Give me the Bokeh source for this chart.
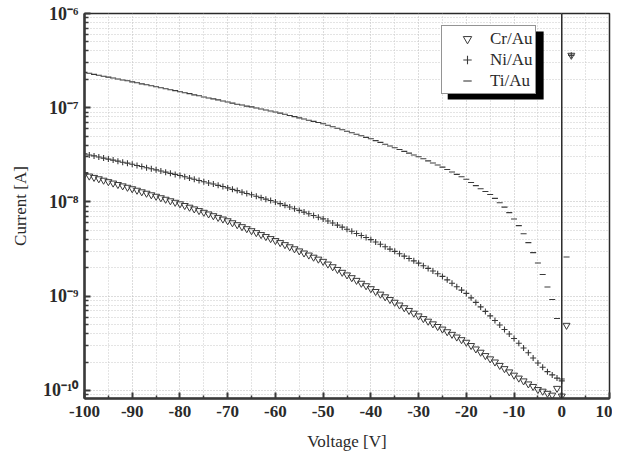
from bokeh.plotting import figure
from bokeh.models import (FixedTicker, CustomJSTickFormatter, Span, Legend, LegendItem,
                          BoxAnnotation, Range1d, ColumnDataSource)
from bokeh.embed import file_html
from bokeh.resources import INLINE

# Voltage sweep (V), 1 V steps from -100 to 0, plus positive-bias points
sweep = list(range(-100, 1))

cr_au = [1.95e-8, 1.88e-8, 1.82e-8, 1.76e-8, 1.70e-8, 1.64e-8, 1.585e-8, 1.53e-8, 1.48e-8, 1.43e-8,
         1.38e-8, 1.33e-8, 1.28e-8, 1.236e-8, 1.19e-8, 1.148e-8, 1.107e-8, 1.067e-8, 1.028e-8, 9.91e-9,
         9.55e-9, 9.16e-9, 8.79e-9, 8.43e-9, 8.09e-9, 7.76e-9, 7.45e-9, 7.14e-9, 6.85e-9, 6.58e-9,
         6.31e-9, 6.01e-9, 5.73e-9, 5.46e-9, 5.20e-9, 4.95e-9, 4.72e-9, 4.50e-9, 4.29e-9, 4.08e-9,
         3.89e-9, 3.70e-9, 3.52e-9, 3.34e-9, 3.18e-9, 3.02e-9, 2.87e-9, 2.73e-9, 2.59e-9, 2.47e-9,
         2.34e-9, 2.19e-9, 2.05e-9, 1.92e-9, 1.79e-9, 1.68e-9, 1.57e-9, 1.47e-9, 1.37e-9, 1.29e-9,
         1.20e-9, 1.12e-9, 1.05e-9, 9.84e-10, 9.20e-10, 8.61e-10, 8.05e-10, 7.53e-10, 7.05e-10, 6.59e-10,
         6.17e-10, 5.78e-10, 5.42e-10, 5.08e-10, 4.76e-10, 4.47e-10, 4.19e-10, 3.93e-10, 3.68e-10, 3.45e-10,
         3.24e-10, 2.99e-10, 2.75e-10, 2.54e-10, 2.34e-10, 2.16e-10, 2.00e-10, 1.84e-10, 1.70e-10, 1.57e-10,
         1.45e-10, 1.35e-10, 1.26e-10, 1.17e-10, 1.10e-10, 1.02e-10, 9.8e-11, 9.3e-11, 8.9e-11, 1.05e-10,
         8.7e-11]
ni_au = [3.24e-8, 3.15e-8, 3.08e-8, 3.00e-8, 2.92e-8, 2.85e-8, 2.78e-8, 2.71e-8, 2.64e-8, 2.58e-8,
         2.51e-8, 2.44e-8, 2.38e-8, 2.31e-8, 2.25e-8, 2.19e-8, 2.13e-8, 2.07e-8, 2.01e-8, 1.96e-8,
         1.91e-8, 1.85e-8, 1.79e-8, 1.74e-8, 1.69e-8, 1.64e-8, 1.59e-8, 1.55e-8, 1.50e-8, 1.46e-8,
         1.41e-8, 1.36e-8, 1.32e-8, 1.27e-8, 1.23e-8, 1.19e-8, 1.15e-8, 1.11e-8, 1.07e-8, 1.035e-8,
         1.00e-8, 9.59e-9, 9.20e-9, 8.83e-9, 8.47e-9, 8.13e-9, 7.80e-9, 7.48e-9, 7.18e-9, 6.89e-9,
         6.61e-9, 6.28e-9, 5.97e-9, 5.68e-9, 5.40e-9, 5.13e-9, 4.88e-9, 4.63e-9, 4.41e-9, 4.19e-9,
         3.98e-9, 3.76e-9, 3.55e-9, 3.35e-9, 3.16e-9, 2.99e-9, 2.82e-9, 2.66e-9, 2.51e-9, 2.37e-9,
         2.24e-9, 2.10e-9, 1.97e-9, 1.85e-9, 1.73e-9, 1.62e-9, 1.49e-9, 1.37e-9, 1.26e-9, 1.16e-9,
         1.07e-9, 9.59e-10, 8.59e-10, 7.69e-10, 6.89e-10, 6.17e-10, 5.52e-10, 4.94e-10, 4.43e-10, 3.96e-10,
         3.55e-10, 3.16e-10, 2.82e-10, 2.51e-10, 2.21e-10, 1.95e-10, 1.76e-10, 1.58e-10, 1.46e-10, 1.35e-10,
         1.26e-10]
ti_au = [2.37e-7, 2.32e-7, 2.26e-7, 2.21e-7, 2.16e-7, 2.11e-7, 2.07e-7, 2.02e-7, 1.97e-7, 1.93e-7,
         1.88e-7, 1.84e-7, 1.79e-7, 1.75e-7, 1.71e-7, 1.67e-7, 1.63e-7, 1.59e-7, 1.55e-7, 1.52e-7,
         1.48e-7, 1.44e-7, 1.41e-7, 1.37e-7, 1.34e-7, 1.30e-7, 1.27e-7, 1.24e-7, 1.21e-7, 1.18e-7,
         1.15e-7, 1.12e-7, 1.09e-7, 1.07e-7, 1.04e-7, 1.02e-7, 9.93e-8, 9.69e-8, 9.46e-8, 9.24e-8,
         9.02e-8, 8.76e-8, 8.51e-8, 8.27e-8, 8.04e-8, 7.81e-8, 7.59e-8, 7.37e-8, 7.16e-8, 6.96e-8,
         6.76e-8, 6.52e-8, 6.28e-8, 6.05e-8, 5.83e-8, 5.62e-8, 5.42e-8, 5.22e-8, 5.04e-8, 4.85e-8,
         4.68e-8, 4.48e-8, 4.29e-8, 4.10e-8, 3.93e-8, 3.76e-8, 3.60e-8, 3.44e-8, 3.30e-8, 3.15e-8,
         3.02e-8, 2.87e-8, 2.73e-8, 2.59e-8, 2.47e-8, 2.34e-8, 2.21e-8, 2.08e-8, 1.96e-8, 1.85e-8,
         1.74e-8, 1.61e-8, 1.49e-8, 1.38e-8, 1.29e-8, 1.20e-8, 1.09e-8, 9.8e-9, 8.8e-9, 7.7e-9,
         6.6e-9, 5.6e-9, 4.6e-9, 3.7e-9, 2.9e-9, 2.25e-9, 1.7e-9, 1.25e-9, 9.2e-10, 5.8e-10,
         1.32e-10]

# Positive-bias points
cr_pos_v = [1, 2]
cr_pos_i = [4.9e-10, 3.6e-7]
ni_pos_v = [2]
ni_pos_i = [3.6e-7]
ti_pos_v = [1, 2]
ti_pos_i = [2.6e-9, 3.6e-7]

x_major = [-100, -90, -80, -70, -60, -50, -40, -30, -20, -10, 0, 10]
x_minor = [-95, -85, -75, -65, -55, -45, -35, -25, -15, -5, 5]
y_major = [1e-10, 1e-9, 1e-8, 1e-7, 1e-6]

SERIF = "Liberation Serif"
INK = "#2a2a2a"
MARK = "#3a3a3a"

p = figure(frame_width=525, frame_height=385, y_axis_type="log",
           x_range=Range1d(-100, 10), y_range=Range1d(8.2e-11, 1e-6),
           output_backend="svg", toolbar_location=None,
           min_border_left=84, min_border_top=13, min_border_right=3, min_border_bottom=52,
           background_fill_color="white", border_fill_color="white")

p.outline_line_color = INK
p.outline_line_width = 1.5

# grids
for g in (p.xgrid, p.ygrid):
    g.grid_line_color = "#b8b8b8"
    g.grid_line_dash = "1 2"
    g.grid_line_width = 1
    g.minor_grid_line_color = "#c8c8c8"
    g.minor_grid_line_dash = "1 2"
    g.minor_grid_line_width = 1

# axes
p.xaxis.ticker = FixedTicker(ticks=x_major, minor_ticks=x_minor)
p.xaxis.formatter = CustomJSTickFormatter(code="return tick.toFixed(0);")
y_minor = [m * 10.0 ** e for e in range(-11, -6) for m in range(2, 10)]
p.yaxis.ticker = FixedTicker(ticks=y_major, minor_ticks=y_minor)
p.yaxis.formatter = CustomJSTickFormatter(code="""
const sup = {'-':'\u207b','0':'\u2070','1':'\u00b9','2':'\u00b2','3':'\u00b3','4':'\u2074',
             '5':'\u2075','6':'\u2076','7':'\u2077','8':'\u2078','9':'\u2079'};
const e = Math.round(Math.log10(tick));
return '10' + String(e).split('').map(c => sup[c]).join('');
""")

for ax in (p.xaxis, p.yaxis):
    ax.axis_line_color = "#3a3a3a"
    ax.axis_line_width = 2.5
    ax.major_tick_line_color = "#3a3a3a"
    ax.minor_tick_line_color = "#3a3a3a"
    ax.major_tick_line_width = 2
    ax.minor_tick_line_width = 1.5
    ax.major_tick_in = 6
    ax.major_tick_out = 0
    ax.minor_tick_in = 3
    ax.minor_tick_out = 0
    ax.major_label_text_font = SERIF
    ax.major_label_text_font_style = "bold"
    ax.major_label_text_color = INK
    ax.axis_label_text_font = SERIF
    ax.axis_label_text_font_style = "normal"
    ax.axis_label_text_color = INK
    ax.axis_label_text_font_size = "17px"

p.xaxis.major_label_text_font_size = "17px"
p.yaxis.major_label_text_font_size = "18px"
p.yaxis.minor_tick_in = 4
p.xaxis.major_label_standoff = 7
p.yaxis.major_label_standoff = 6
p.xaxis.axis_label = "Voltage [V]"
p.yaxis.axis_label = "Current [A]"
p.xaxis.axis_label_standoff = 12
p.yaxis.axis_label_standoff = 10

# zero line
p.add_layout(Span(location=0, dimension="height", line_color=INK, line_width=1.5))

src_cr = ColumnDataSource(dict(v=sweep + cr_pos_v, i=cr_au + cr_pos_i))
src_ni = ColumnDataSource(dict(v=sweep + ni_pos_v, i=ni_au + ni_pos_i))
src_ti = ColumnDataSource(dict(v=sweep + ti_pos_v, i=ti_au + ti_pos_i))

r_cr = p.scatter("v", "i", source=src_cr, marker="inverted_triangle", size=7,
                 fill_color=None, line_color=MARK, line_width=1)
r_ni = p.scatter("v", "i", source=src_ni, marker="cross", size=6,
                 line_color=MARK, line_width=1.1)
r_ti = p.scatter("v", "i", source=src_ti, marker="dash", size=6,
                 line_color=MARK, line_width=1.1)

# legend shadow
p.add_layout(BoxAnnotation(left=-23.9, right=-3.8, top=6.44e-7, bottom=1.225e-7,
                           fill_color="black", fill_alpha=1.0, line_color=None))

legend = Legend(items=[LegendItem(label="Cr/Au", renderers=[r_cr]),
                       LegendItem(label="Ni/Au", renderers=[r_ni]),
                       LegendItem(label="Ti/Au", renderers=[r_ti])],
                location=(357, 304), padding=2, spacing=0, margin=0,
                glyph_width=46, glyph_height=21, label_height=21, label_width=0,
                label_standoff=0, label_text_font=SERIF, label_text_font_size="17px",
                label_text_color=INK, border_line_color=INK, border_line_width=1,
                background_fill_color="white", background_fill_alpha=1.0)
p.add_layout(legend)

open("out.html", "w").write(file_html(p, INLINE))
